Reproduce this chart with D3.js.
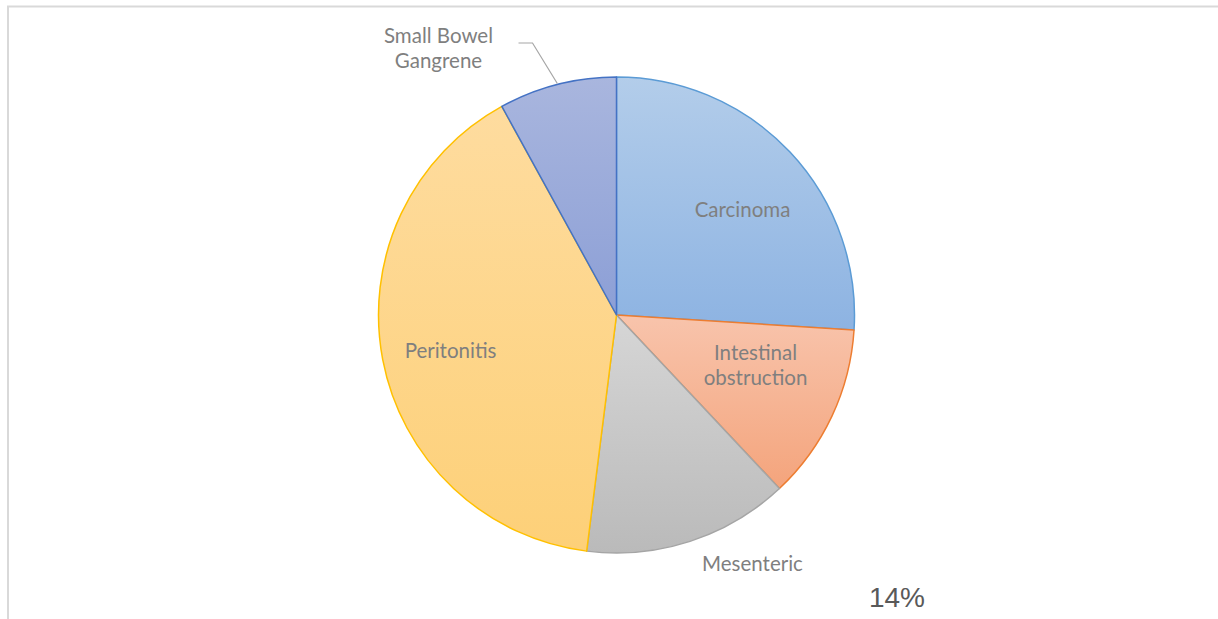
<!DOCTYPE html>
<html>
<head>
<meta charset="utf-8">
<script src="https://cdn.jsdelivr.net/npm/d3@7"></script>
<style>
  body { margin: 0; background: #fff; }
  svg { display: block; }
</style>
</head>
<body>
<div id="chart"></div>
<script>
// data
const categories = ["Carcinoma", "Intestinal obstruction", "Mesenteric", "Peritonitis", "Small Bowel Gangrene"];
const values = [26, 12, 14, 40, 8];
const strayLabel = "14%";

const width = 1218, height = 619;
const cx = 616.5, cy = 315, radius = 238;

// Excel-ish office palette: [top, bottom, stroke]
const palette = [
  ["#b3cdea", "#8db3e2", "#5b9bd5"],
  ["#f8c4ac", "#f4a47c", "#ed7d31"],
  ["#d6d6d6", "#bababa", "#a5a5a5"],
  ["#fedc9f", "#fdd078", "#ffc000"],
  ["#a9b6de", "#8c9fd6", "#4472c4"]
];

// label placement (offset from centre, px)
const labelPos = [
  { x: 126, y: -106 },
  { x: 139, y: 49 },
  { x: 136, y: 248 },
  { x: -166, y: 35 },
  { x: -178, y: -268 }
];
const lineGap = 25;

const svg = d3.select("#chart").append("svg")
  .attr("width", width).attr("height", height);

// chart frame (partial, as cropped)
svg.append("path")
  .attr("d", `M8,${height} L8,6.5 L${width},6.5`)
  .attr("fill", "none")
  .attr("stroke", "#d9d9d9")
  .attr("stroke-width", 2);

const defs = svg.append("defs");
palette.forEach((p, i) => {
  const gr = defs.append("linearGradient")
    .attr("id", "grad" + i)
    .attr("x1", 0).attr("y1", 0).attr("x2", 0).attr("y2", 1);
  gr.append("stop").attr("offset", "0%").attr("stop-color", p[0]);
  gr.append("stop").attr("offset", "100%").attr("stop-color", p[1]);
});

const pie = d3.pie().sort(null).value(d => d);
const arcs = pie(values);
const arc = d3.arc().innerRadius(0).outerRadius(radius);

const g = svg.append("g").attr("transform", `translate(${cx},${cy})`);

g.selectAll("path.slice")
  .data(arcs)
  .join("path")
    .attr("class", "slice")
    .attr("d", arc)
    .attr("fill", (d, i) => `url(#grad${i})`)
    .attr("stroke", (d, i) => palette[i][2])
    .attr("stroke-width", 1.5)
    .attr("stroke-linejoin", "round");

// labels (one text per line)
const font = "Lato, 'Open Sans', sans-serif";
categories.forEach((name, i) => {
  const lines = name === "Intestinal obstruction" ? ["Intestinal", "obstruction"]
    : name === "Small Bowel Gangrene" ? ["Small Bowel", "Gangrene"] : [name];
  lines.forEach((l, k) => {
    g.append("text")
      .attr("x", labelPos[i].x)
      .attr("y", labelPos[i].y - (lines.length - 1) * lineGap / 2 + k * lineGap)
      .attr("text-anchor", "middle")
      .attr("dominant-baseline", "central")
      .style("font-family", font)
      .style("font-size", "20.5px")
      .attr("fill", "#7f7f7f")
      .text(l);
  });
});

// leader line for the small slice
const sb = arcs[4];
const edge = d3.arc().innerRadius(radius).outerRadius(radius).centroid(sb);
g.append("polyline")
  .attr("points", [[-98, -272], [-84, -272], [edge[0], edge[1] - 1]].map(p => p.join(",")).join(" "))
  .attr("fill", "none")
  .attr("stroke", "#a6a6a6")
  .attr("stroke-width", 1.2);

// stray percentage label
svg.append("text")
  .attr("x", 897).attr("y", 597)
  .attr("text-anchor", "middle")
  .attr("dominant-baseline", "central")
  .style("font-family", "'Liberation Sans', Arial, sans-serif")
  .style("font-size", "28px")
  .attr("fill", "#595959")
  .text(strayLabel);
</script>
</body>
</html>
